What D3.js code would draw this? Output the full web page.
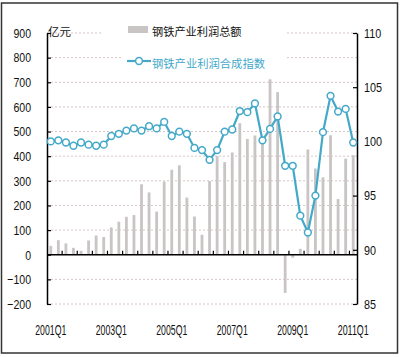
<!DOCTYPE html>
<html><head><meta charset="utf-8">
<script src="https://cdn.jsdelivr.net/npm/d3@7"></script>
<style>
html,body{margin:0;padding:0;background:#fff;}
svg{display:block;}
</style></head>
<body>
<script>
const categories = ["2001Q1","2001Q2","2001Q3","2001Q4","2002Q1","2002Q2","2002Q3","2002Q4",
"2003Q1","2003Q2","2003Q3","2003Q4","2004Q1","2004Q2","2004Q3","2004Q4",
"2005Q1","2005Q2","2005Q3","2005Q4","2006Q1","2006Q2","2006Q3","2006Q4",
"2007Q1","2007Q2","2007Q3","2007Q4","2008Q1","2008Q2","2008Q3","2008Q4",
"2009Q1","2009Q2","2009Q3","2009Q4","2010Q1","2010Q2","2010Q3","2010Q4","2011Q1"];
const profitTotal = [36,59,46,28,16,58,78,72,
111,134,154,161,286,253,175,297,
345,363,232,155,81,299,400,376,
415,534,470,484,477,712,660,-155,
-12,24,427,350,314,485,226,390,404];
const profitIndex = [100.0,100.1,99.9,99.6,99.9,99.7,99.6,99.7,
100.5,100.7,101.0,101.2,101.0,101.4,101.2,101.8,
100.5,100.9,100.7,99.4,99.2,98.3,99.2,100.9,
101.1,102.8,102.7,103.5,100.1,101.15,102.3,97.75,
97.75,93.15,91.6,95.0,100.85,104.2,102.75,103.0,99.9];
const xTickLabels = ["2001Q1","2003Q1","2005Q1","2007Q1","2009Q1","2011Q1"];
const leftTicks = [-200,-100,0,100,200,300,400,500,600,700,800,900];
const rightTicks = [85,90,95,100,105,110];
const seriesNames = ["钢铁产业利润总额","钢铁产业利润合成指数"];
const unitLabel = "亿元";

const W = 400, H = 357;
const L = 47, R = 357, T = 33, B = 304;
const barColor = "#c9c5c5", lineColor = "#44a9c9", gridColor = "#d8c4c4";
const numFont = "'Liberation Sans', Arial, sans-serif";
const cjkFont = "'Noto Sans CJK SC', sans-serif";

const svg = d3.select("body").append("svg").attr("width", W).attr("height", H);

// outer frame
svg.append("rect").attr("x",1.5).attr("y",3).attr("width",396).attr("height",350)
  .attr("fill","none").attr("stroke","#333").attr("stroke-width",1.5);

const x = d3.scaleBand().domain(categories).range([L, R]).padding(0);
const y = d3.scaleLinear().domain([-200, 900]).range([B, T]);
const yR = d3.scaleLinear().domain([85, 110]).range([B, T]);

// gridlines
svg.append("g").selectAll("line").data(leftTicks.filter(d => d !== 0)).join("line")
  .attr("x1", L).attr("x2", R).attr("y1", d => y(d)).attr("y2", d => y(d))
  .attr("stroke", gridColor).attr("stroke-width", 1).attr("stroke-dasharray", "2,2");

// legend backgrounds
svg.append("rect").attr("x",103).attr("y",22).attr("width",184).attr("height",20).attr("fill","#fff");
svg.append("rect").attr("x",122).attr("y",48).attr("width",165).attr("height",24).attr("fill","#fff");

// bars
const bw = 2.8;
svg.append("g").selectAll("rect").data(profitTotal).join("rect")
  .attr("x", (d,i) => x(categories[i]) + x.bandwidth()/2 - bw/2)
  .attr("width", bw)
  .attr("y", d => y(Math.max(0, d)))
  .attr("height", d => Math.abs(y(d) - y(0)))
  .attr("fill", barColor);

// zero axis line
svg.append("line").attr("x1", L).attr("x2", R).attr("y1", y(0)).attr("y2", y(0))
  .attr("stroke", "#000").attr("stroke-width", 1.5);

// category boundary ticks every 2 quarters
svg.append("g").selectAll("line").data(categories.filter((c,i) => i > 0 && i % 2 === 0)).join("line")
  .attr("x1", d => x(d)).attr("x2", d => x(d))
  .attr("y1", y(0)).attr("y2", y(0) - 4)
  .attr("stroke", "#000").attr("stroke-width", 1.2);

// left axis
const gl = svg.append("g").attr("transform", `translate(${L},0)`)
  .call(d3.axisLeft(y).tickValues(leftTicks).tickSizeInner(-4).tickSizeOuter(0).tickPadding(16));
// right axis
const gr = svg.append("g").attr("transform", `translate(${R},0)`)
  .call(d3.axisRight(yR).tickValues(rightTicks).tickSizeInner(-4).tickSizeOuter(0).tickPadding(7));
[gl, gr].forEach(g => {
  g.select(".domain").attr("stroke", "#000").attr("stroke-width", 1.5);
  g.selectAll(".tick line").attr("stroke", "#000").attr("stroke-width", 1.2);
  g.selectAll("text").attr("font-family", numFont).attr("font-size", 13.5).attr("fill", "#111");
});

// bottom labels
const gx = svg.append("g").attr("transform", `translate(0,${B})`)
  .call(d3.axisBottom(x).tickValues(xTickLabels).tickSize(0).tickPadding(21));
gx.select(".domain").remove();
gx.selectAll("text").attr("font-family", numFont).attr("font-size", 14).attr("fill", "#111");

// condense numeric labels
gl.selectAll("text").each(function(){ const w = this.getComputedTextLength(); d3.select(this).attr("textLength", w*0.78).attr("lengthAdjust","spacingAndGlyphs"); });
gr.selectAll("text").each(function(){ const w = this.getComputedTextLength(); d3.select(this).attr("textLength", w*0.8).attr("lengthAdjust","spacingAndGlyphs"); });
gx.selectAll("text").each(function(){ d3.select(this).attr("textLength", 31).attr("lengthAdjust","spacingAndGlyphs"); });

// index line
const line = d3.line().x((d,i) => x(categories[i]) + x.bandwidth()/2).y(d => yR(d));
svg.append("path").datum(profitIndex).attr("d", line)
  .attr("fill", "none").attr("stroke", lineColor).attr("stroke-width", 2.2);
svg.append("g").selectAll("circle").data(profitIndex).join("circle")
  .attr("cx", (d,i) => x(categories[i]) + x.bandwidth()/2).attr("cy", d => yR(d))
  .attr("r", 3.4).attr("fill", "#fff").attr("stroke", lineColor).attr("stroke-width", 1.5);

// unit label
svg.append("text").attr("x", 48).attr("y", 36).text(unitLabel)
  .attr("font-family", cjkFont).attr("font-size", 11.5).attr("fill", "#111");

// legend
svg.append("rect").attr("x", 128).attr("y", 26).attr("width", 20).attr("height", 7).attr("fill", barColor);
svg.append("text").attr("x", 152).attr("y", 36).text(seriesNames[0])
  .attr("font-family", cjkFont).attr("font-size", 11.2).attr("fill", "#111");
svg.append("line").attr("x1", 127).attr("x2", 151).attr("y1", 61).attr("y2", 61)
  .attr("stroke", lineColor).attr("stroke-width", 2.2);
svg.append("circle").attr("cx", 139).attr("cy", 61).attr("r", 3.4)
  .attr("fill", "#fff").attr("stroke", lineColor).attr("stroke-width", 1.5);
svg.append("text").attr("x", 152).attr("y", 68).text(seriesNames[1])
  .attr("font-family", cjkFont).attr("font-size", 11.3).attr("fill", lineColor);
</script>
</body></html>
